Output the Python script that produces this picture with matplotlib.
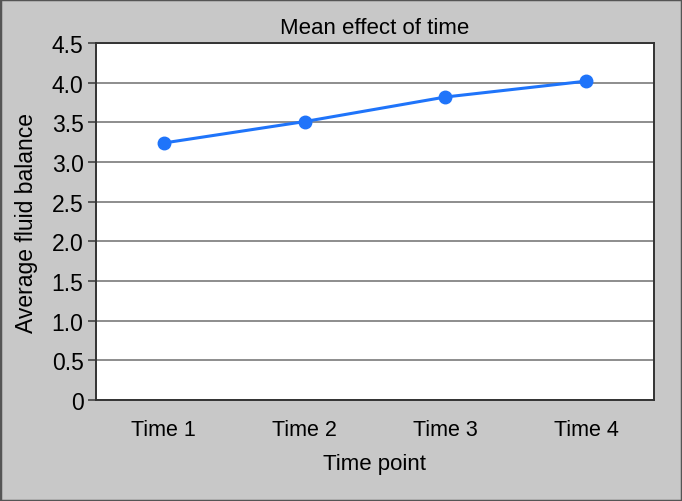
import matplotlib.pyplot as plt
from matplotlib.patches import Rectangle

plt.rcParams['font.family'] = ['Liberation Sans', 'DejaVu Sans']

time_labels = ['Time 1', 'Time 2', 'Time 3', 'Time 4']
fluid_means = [3.24, 3.51, 3.82, 4.02]
y_ticks = [0, 0.5, 1.0, 1.5, 2.0, 2.5, 3.0, 3.5, 4.0, 4.5]
y_tick_labels = ['0', '0.5', '1.0', '1.5', '2.0', '2.5', '3.0', '3.5', '4.0', '4.5']

fig = plt.figure(figsize=(6.82, 5.02), dpi=100, facecolor='#c8c8c8')
ax = fig.add_axes([0.1408, 0.2012, 0.818, 0.711])
ax.set_facecolor('white')

x = list(range(1, len(time_labels) + 1))
ax.plot(x, fluid_means, color='#1f74fa', lw=2.2, marker='o', ms=9, zorder=3)

ax.set_ylim(0, 4.5)
ax.set_xlim(0.52, 4.48)
ax.set_yticks(y_ticks)
ax.set_yticklabels(y_tick_labels, fontsize=16.5)
ax.set_xticks(x)
ax.set_xticklabels(time_labels, fontsize=15.5)
ax.tick_params(axis='x', length=0, pad=14)
ax.tick_params(axis='y', length=6, width=1.2, color='#444444', pad=3)
ax.yaxis.grid(True, color='#7a7a7a', lw=1.2)
ax.set_axisbelow(True)
for s in ax.spines.values():
    s.set_color('#333333')
    s.set_linewidth(1.4)

ax.set_title('Mean effect of time', fontsize=16, pad=7)
ax.set_xlabel('Time point', fontsize=16, labelpad=9)
ax.set_ylabel('Average fluid balance', fontsize=16.5, labelpad=10)

# thin frame around the whole figure
fig.patches.append(Rectangle((0, 0), 1, 1, transform=fig.transFigure, fill=False,
                             edgecolor='#555555', lw=2.5))

fig.savefig('out.png', dpi=100, facecolor=fig.get_facecolor())
